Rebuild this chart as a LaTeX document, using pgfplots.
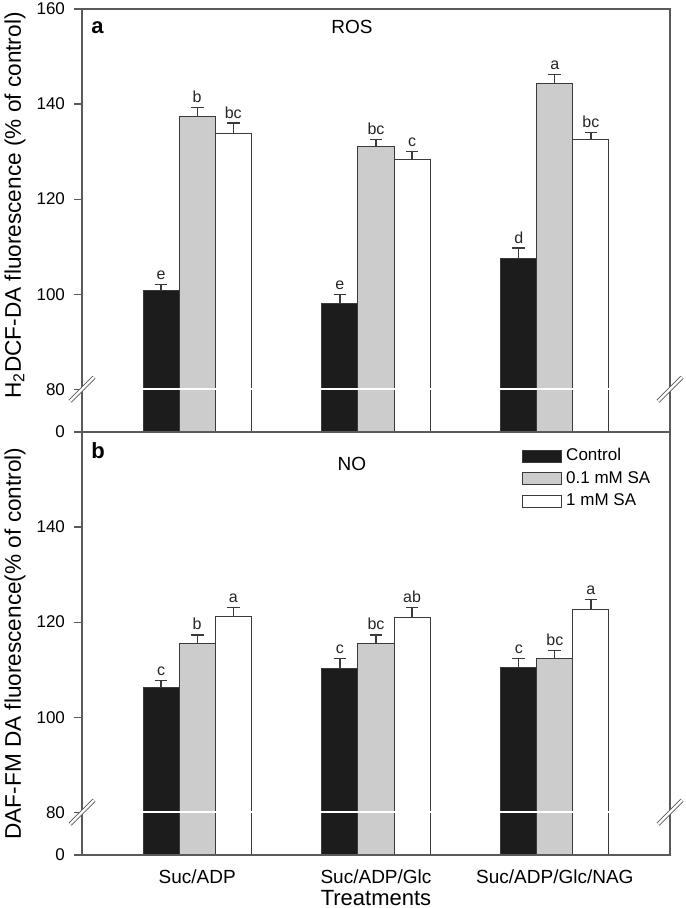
\documentclass[border=0pt]{standalone}
\usepackage{fontspec}
\setmainfont{Liberation Sans}
\usepackage{pgfplots}
\pgfplotsset{compat=1.18}
\usepackage{pgfplotstable}

\definecolor{barblack}{HTML}{1C1C1C}
\definecolor{bargray}{HTML}{CCCCCC}
\definecolor{axgray}{HTML}{5A5A5A}
\definecolor{edge}{HTML}{3A3A3A}

% x = group, c/g/w = Control, 0.1 mM SA, 1 mM SA; *e = error, *l = letter
\pgfplotstableread{
x  c      ce   cl  g      ge   gl  w      we   wl
1  100.8  1.3  e   137.3  1.9  b   133.9  2.1  bc
2  98.1   1.9  e   131.0  1.5  bc  128.4  1.6  c
3  107.6  2.1  d   144.3  1.9  a   132.5  1.5  bc
}\ros

\pgfplotstableread{
x  c      ce   cl  g      ge   gl  w      we   wl
1  106.3  1.5  c   115.6  1.7  b   121.1  2.0  a
2  110.3  2.0  c   115.5  1.8  bc  121.0  2.1  ab
3  110.4  2.0  c   112.3  1.7  bc  122.7  2.1  a
}\no

% 0 is drawn at y=71 (broken axis), 80..160 on a linear scale
\pgfplotsset{
  panel/.style={
    scale only axis, width=294pt, height=211.5pt,
    xmin=0.356, xmax=3.644, ymin=71, ymax=160,
    ybar=0pt, bar width=0.2017,
    axis on top,
    axis line style={axgray, line width=0.7pt},
    tick align=outside, ytick pos=left, major tick length=4pt,
    ytick style={axgray, line width=0.6pt},
    yticklabel style={font=\fontsize{8.5}{10}\selectfont, xshift=-1pt},
    every axis y label/.style={at={([xshift=-33.5pt]axis description cs:0,0.5)},
      anchor=center, rotate=90, font=\fontsize{11.3}{13}\selectfont},
    error bars/y dir=plus, error bars/y explicit,
    error bars/error mark=|,
    error bars/error mark options={mark size=3.2pt, line width=0.6pt, edge},
    error bars/error bar style={line width=0.6pt, edge},
    nodes near coords, point meta=explicit symbolic,
    every node near coord/.append style={font=\fontsize{8}{9}\selectfont,
      text=black!85, anchor=south, inner sep=1pt, yshift=1.2pt,
      shift={(axis direction cs:0,\err)}},
    legend image code/.code={\draw[##1] (0pt,-3pt) rectangle (19.5pt,3pt);},
  },
  sblack/.style={fill=barblack, draw=edge, line width=0.5pt},
  sgray/.style={fill=bargray, draw=edge, line width=0.5pt},
  swhite/.style={fill=white, draw=edge, line width=0.5pt},
}

\begin{document}
\begin{tikzpicture}
\begin{axis}[panel, name=top, at={(0,0)}, anchor=north west,
    xtick=\empty,
    ytick={71,80,100,120,140,160}, yticklabels={0,80,100,120,140,160},
    ylabel={H\textsubscript{2}DCF-DA fluorescence (\% of control)},
    every axis y label/.append style={at={([xshift=-33.5pt]axis description cs:0,0.535)}},
  ]
  \addplot[sblack, visualization depends on={\thisrow{ce}\as\err}]
    table[x=x, y=c, y error=ce, meta=cl] {\ros};
  \addplot[sgray, visualization depends on={\thisrow{ge}\as\err}]
    table[x=x, y=g, y error=ge, meta=gl] {\ros};
  \addplot[swhite, visualization depends on={\thisrow{we}\as\err}]
    table[x=x, y=w, y error=we, meta=wl] {\ros};
  \draw[white, line width=1pt] (axis cs:0.4,80) -- (axis cs:3.6,80);
  \node[font=\bfseries\fontsize{11}{13}\selectfont, anchor=west]
    at (rel axis cs:0.004,0.955) {a};
  \node[font=\fontsize{9.5}{11}\selectfont] at (rel axis cs:0.459,0.957) {ROS};
  \coordinate (tl) at (axis cs:0.356,80);
  \coordinate (tr) at (axis cs:3.644,80);
\end{axis}

\begin{axis}[panel, name=bot, at={(top.south west)}, anchor=north west,
    xtick={1,2,3}, xticklabels={Suc/ADP,Suc/ADP/Glc,Suc/ADP/Glc/NAG},
    xtick style={draw=none},
    xticklabel style={font=\fontsize{9.5}{11}\selectfont, yshift=0pt},
    ytick={71,80,100,120,140}, yticklabels={0,80,100,120,140},
    ylabel={DAF-FM DA fluorescence(\% of control)},
    xlabel={Treatments},
    every axis x label/.style={at={([yshift=-21.5pt]axis description cs:0.5,0)},
      anchor=center, font=\fontsize{11}{13}\selectfont},
    legend style={draw=none, fill=none, at={(rel axis cs:0.748,0.971)},
      anchor=north west, inner sep=0pt, row sep=-0.3pt,
      font=\fontsize{8.5}{10}\selectfont, legend cell align=left},
  ]
  \addplot[sblack, visualization depends on={\thisrow{ce}\as\err}]
    table[x=x, y=c, y error=ce, meta=cl] {\no};
  \addplot[sgray, visualization depends on={\thisrow{ge}\as\err}]
    table[x=x, y=g, y error=ge, meta=gl] {\no};
  \addplot[swhite, visualization depends on={\thisrow{we}\as\err}]
    table[x=x, y=w, y error=we, meta=wl] {\no};
  \legend{Control, 0.1 mM SA, 1 mM SA}
  \draw[white, line width=1pt] (axis cs:0.4,80) -- (axis cs:3.6,80);
  \node[font=\bfseries\fontsize{11}{13}\selectfont, anchor=west]
    at (rel axis cs:0.004,0.955) {b};
  \node[font=\fontsize{9.5}{11}\selectfont] at (rel axis cs:0.459,0.924) {NO};
  \coordinate (bl) at (axis cs:0.356,80);
  \coordinate (br) at (axis cs:3.644,80);
\end{axis}

% axis break marks
\foreach \p in {tl,tr,bl,br}
  \draw[axgray, line width=0.45pt, double=white, double distance=1.1pt]
    ([shift={(-6pt,-6pt)}]\p) -- ([shift={(6pt,6pt)}]\p);

\pgfresetboundingbox
\path (-41pt,4.5pt) rectangle (301.5pt,-449.5pt);
\end{tikzpicture}
\end{document}
